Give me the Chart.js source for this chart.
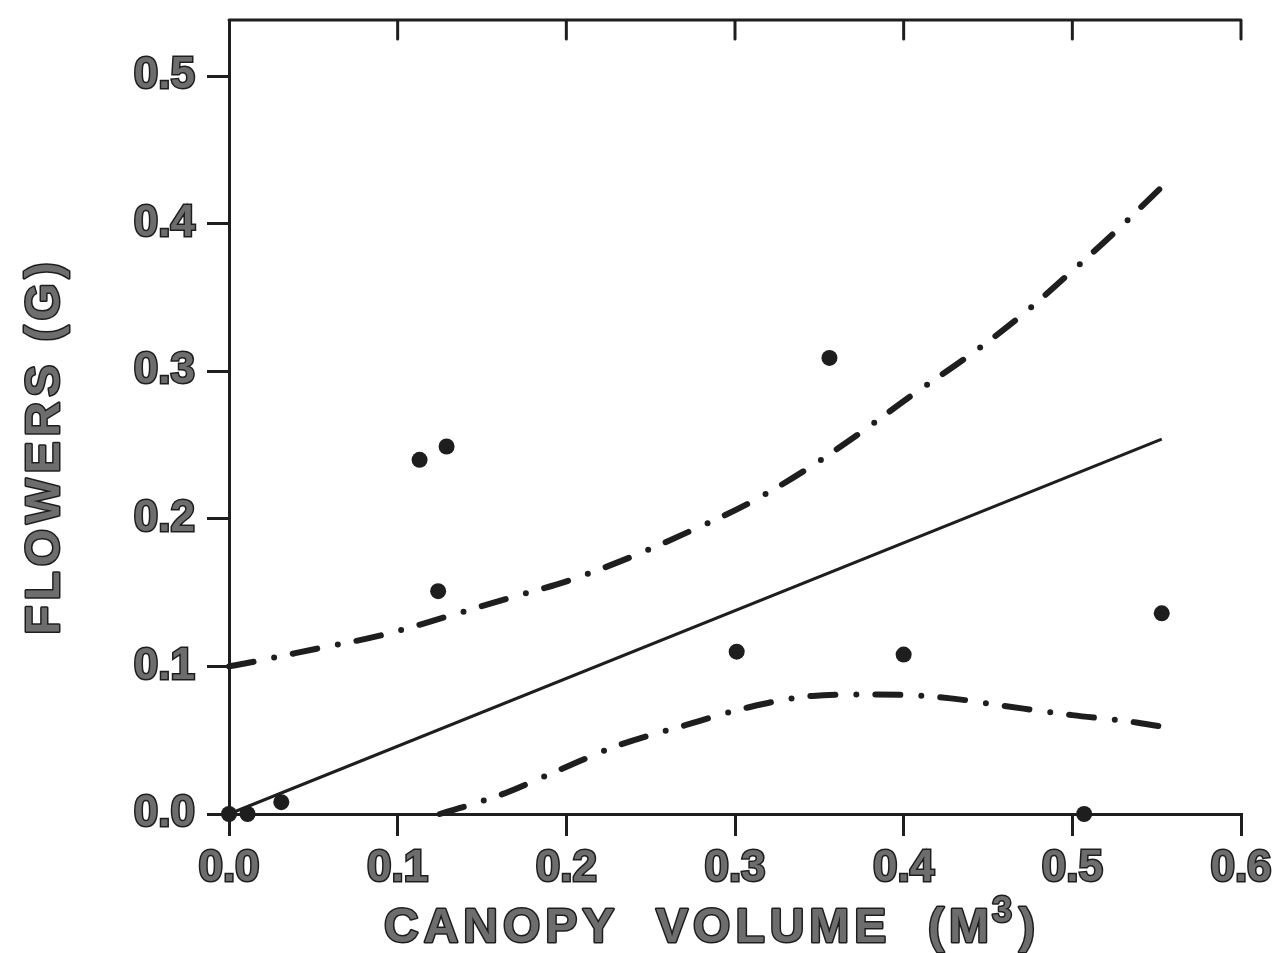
<!DOCTYPE html>
<html>
<head>
<meta charset="utf-8">
<title>Flowers vs canopy volume</title>
<script src="https://cdn.jsdelivr.net/npm/chart.js@4.4.1/dist/chart.umd.min.js"></script>
<style>
  html, body { margin: 0; padding: 0; background: #fff; }
  #wrap { width: 1280px; height: 953px; }
</style>
</head>
<body>
<div id="wrap"><canvas id="c" width="1280" height="953"></canvas></div>
<script>
// Observed plants: canopy volume (m^3) and flower mass (g)
const volume  = [0.000, 0.011, 0.031, 0.113, 0.124, 0.129, 0.301, 0.356, 0.400, 0.507, 0.553];
const flowers = [0.000, 0.000, 0.008, 0.240, 0.151, 0.249, 0.110, 0.309, 0.108, 0.000, 0.136];

// Fitted regression line
const fitX = [0.000, 0.553];
const fitY = [0.000, 0.254];

// Upper confidence limit
const upperX = [0.000, 0.014, 0.052, 0.090, 0.127, 0.165, 0.201, 0.238, 0.274, 0.309, 0.343, 0.374, 0.404, 0.438, 0.469, 0.497, 0.525, 0.555];
const upperY = [0.100, 0.103, 0.112, 0.121, 0.133, 0.146, 0.158, 0.174, 0.192, 0.211, 0.234, 0.258, 0.283, 0.310, 0.337, 0.365, 0.394, 0.427];

// Lower confidence limit
const lowerX = [0.125, 0.161, 0.196, 0.232, 0.270, 0.307, 0.346, 0.384, 0.423, 0.461, 0.500, 0.538, 0.559];
const lowerY = [0.000, 0.013, 0.030, 0.047, 0.060, 0.072, 0.080, 0.081, 0.079, 0.073, 0.067, 0.062, 0.058];

// Axis ticks
const xTicks = [0.0, 0.1, 0.2, 0.3, 0.4, 0.5, 0.6];
const yTicks = [0.0, 0.1, 0.2, 0.3, 0.4, 0.5];

const ink = '#1e1e1e';
const labelFill = '#6d6d6d';
const pairs = (xs, ys) => xs.map((x, i) => ({ x, y: ys[i] }));

// Top border with inward ticks, and the two axis titles
const frame = {
  id: 'frame',
  afterDraw(chart) {
    const { ctx, chartArea: a, scales: { x } } = chart;
    ctx.save();
    ctx.strokeStyle = ink;
    ctx.lineWidth = 3;
    ctx.lineCap = 'round';
    ctx.lineJoin = 'round';
    ctx.beginPath();
    ctx.moveTo(a.left, a.top);
    ctx.lineTo(a.right, a.top);
    xTicks.forEach(v => {
      if (v === 0) return;
      const px = x.getPixelForValue(v);
      ctx.moveTo(px, a.top);
      ctx.lineTo(px, a.top + 19);
    });
    ctx.stroke();

    const styleText = () => {
      ctx.fillStyle = labelFill;
      ctx.strokeStyle = ink;
      ctx.lineWidth = 3;
      ctx.lineJoin = 'round';
    };
    const put = (t, px, py) => { ctx.strokeText(t, px, py); ctx.fillText(t, px, py); };

    // x title: CANOPY VOLUME (M³)
    styleText();
    ctx.textBaseline = 'alphabetic';
    ctx.textAlign = 'left';
    const big = 'bold 48px "Liberation Sans", Arial, sans-serif';
    const sup = 'bold 36px "Liberation Sans", Arial, sans-serif';
    ctx.letterSpacing = '5px';
    const main = 'CANOPY  VOLUME  (M';
    ctx.font = big; const w1 = ctx.measureText(main).width;
    ctx.font = sup; const w2 = ctx.measureText('3').width;
    ctx.font = big; const w3 = ctx.measureText(')').width;
    const cx = 712, base = 942;
    let sx = cx - (w1 + w2 + w3) / 2;
    ctx.font = big; put(main, sx, base); sx += w1;
    ctx.font = sup; put('3', sx - 2, base - 20); sx += w2;
    ctx.font = big; put(')', sx, base);

    // y title: FLOWERS (G)
    ctx.translate(42, 446);
    ctx.rotate(-Math.PI / 2);
    ctx.textAlign = 'center';
    ctx.font = big;
    put('FLOWERS (G)', 0, 17);
    ctx.restore();
  }
};

const tickFont = { family: '"Liberation Sans", Arial, sans-serif', weight: 'bold', size: 44 };

new Chart(document.getElementById('c'), {
  type: 'scatter',
  data: {
    datasets: [
      {
        label: 'Observed',
        data: pairs(volume, flowers),
        pointRadius: 8,
        pointBackgroundColor: ink,
        pointBorderColor: ink,
        pointBorderWidth: 0,
        showLine: false,
        clip: false
      },
      {
        label: 'Regression',
        data: pairs(fitX, fitY),
        showLine: true,
        borderColor: ink,
        borderWidth: 3,
        pointRadius: 0,
        clip: false
      },
      {
        label: 'Upper limit',
        data: pairs(upperX, upperY),
        showLine: true,
        borderColor: ink,
        borderWidth: 6,
        borderDash: [25, 21, 0, 19],
        borderCapStyle: 'round',
        cubicInterpolationMode: 'monotone',
        pointRadius: 0,
        clip: false
      },
      {
        label: 'Lower limit',
        data: pairs(lowerX, lowerY),
        showLine: true,
        borderColor: ink,
        borderWidth: 6,
        borderDash: [25, 21, 0, 19],
        borderCapStyle: 'round',
        cubicInterpolationMode: 'monotone',
        pointRadius: 0,
        clip: false
      }
    ]
  },
  options: {
    responsive: false,
    animation: false,
    events: [],
    layout: { padding: { top: 0, right: 39, left: 0, bottom: 0 } },
    plugins: { legend: { display: false }, tooltip: { enabled: false } },
    scales: {
      x: {
        type: 'linear',
        min: 0,
        max: 0.6,
        afterFit: s => { s.height = 139; },
        afterBuildTicks: s => { s.ticks = xTicks.map(v => ({ value: v })); },
        border: { display: true, color: ink, width: 3 },
        grid: { drawOnChartArea: false, drawTicks: true, tickLength: 22, color: ink, lineWidth: 3 },
        ticks: {
          font: tickFont,
          color: labelFill,
          textStrokeColor: ink,
          textStrokeWidth: 3,
          padding: 6,
          maxRotation: 0,
          callback: v => Number(v).toFixed(1)
        }
      },
      y: {
        type: 'linear',
        min: 0,
        max: 0.538,
        afterFit: s => { s.width = 229; s.paddingTop = 20; },
        afterBuildTicks: s => { s.ticks = yTicks.map(v => ({ value: v })); },
        border: { display: true, color: ink, width: 3 },
        grid: { drawOnChartArea: false, drawTicks: true, tickLength: 22, color: ink, lineWidth: 3 },
        ticks: {
          font: tickFont,
          color: labelFill,
          textStrokeColor: ink,
          textStrokeWidth: 3,
          padding: 12,
          callback: v => Number(v).toFixed(1)
        }
      }
    }
  },
  plugins: [frame]
});
</script>
</body>
</html>
